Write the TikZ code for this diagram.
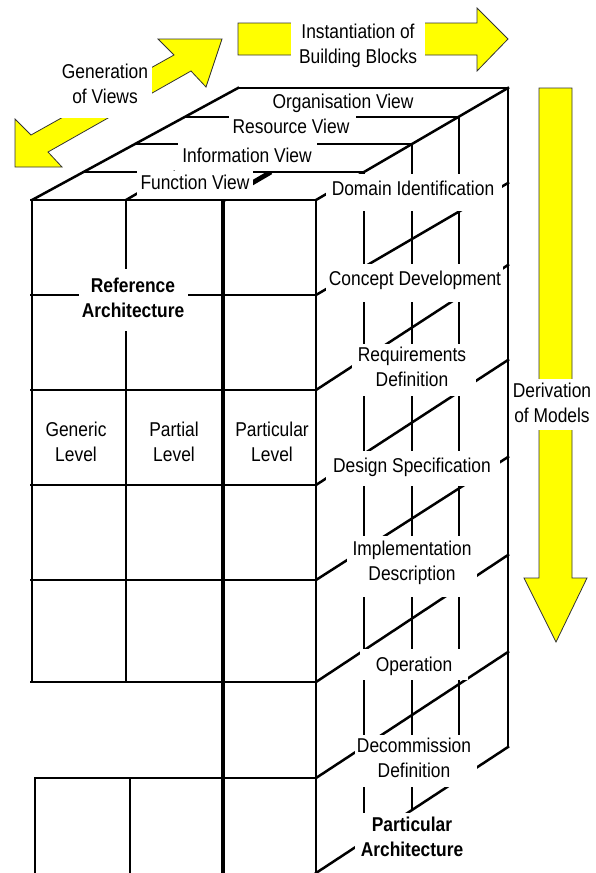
\documentclass[tikz,border=0pt]{standalone}
\usepackage{fontspec}
\setmainfont{Liberation Sans}[FakeStretch=0.87]
\definecolor{arrowyellow}{RGB}{255,255,0}
\begin{document}
\begin{tikzpicture}[x=1pt,y=-1pt,
  grid/.style={line width=2.5pt,line cap=rect},
  thickgrid/.style={line width=4.8pt},
  yarrow/.style={fill=arrowyellow,draw=black!80,line width=0.8pt,line join=miter},
  mask/.style={fill=white},
  lbl/.style={font=\fontsize{20}{25}\selectfont,align=center,inner sep=0pt},
  blbl/.style={font=\fontsize{20}{25}\selectfont\bfseries,align=center,inner sep=0pt}]
\useasboundingbox (0,0) rectangle (595,873);

% ---------- yellow arrows ----------
\draw[yarrow] (238,23) -- (477,23) -- (477,8) -- (508,39) -- (477,71) -- (477,55) -- (238,55) -- cycle;
\draw[yarrow] (539,88) -- (572,88) -- (572,578) -- (587,578) -- (556,642) -- (524,578) -- (539,578) -- cycle;
\draw[yarrow] (222,39) -- (206,87) -- (191,71) -- (48,152) -- (62,167) -- (15,167) -- (15,119) -- (31,135) -- (174,55) -- (158,39) -- cycle;

% ---------- front face ----------
\draw[grid] (32,200) -- (32,682);
\draw[grid] (126,200) -- (126,682);
\foreach \y in {200,295,390,485,580,682} \draw[grid] (31,\y) -- (316,\y);
\draw[grid] (35,778) -- (316,778);
\draw[grid] (35,778) -- (35,873);
\draw[grid] (130,778) -- (130,873);
\draw[grid] (316,200) -- (316,873);
\draw[thickgrid] (223,200) -- (223,873);

% ---------- top face ----------
\draw[grid] (32,200) -- (238,88);
\draw[grid] (316,200) -- (508,88);
\draw[grid] (83,172) -- (364,172);
\draw[grid] (135,144) -- (412,144);
\draw[grid] (186,117) -- (459,117);
\draw[grid] (238,88) -- (508,88);
\draw[grid] (126,200) -- (174,172);
\draw[thickgrid] (223,200) -- (271,172);

% ---------- right face ----------
\draw[grid] (508,88) -- (508,747);
\draw[grid] (364,172) -- (364,841);
\draw[grid] (412,144) -- (412,810);
\draw[grid] (459,117) -- (459,779);
\draw[grid] (316,295) -- (508,183);
\draw[grid] (316,390) -- (508,265);
\draw[grid] (316,485) -- (508,360);
\draw[grid] (316,580) -- (508,457);
\draw[grid] (316,682) -- (508,555);
\draw[grid] (316,778) -- (508,652);
\draw[grid] (316,873) -- (508,747);

% ---------- white label grounds ----------
\fill[mask] (291,16) rectangle (425,72);
\fill[mask] (512,379) rectangle (595,430);
\fill[mask] (55,58) rectangle (152,118);
\fill[mask] (270,90) rectangle (418,115.2);
\fill[mask] (229,115.8) rectangle (356,142.5);
\fill[mask] (178,143.2) rectangle (317,170.5);
\fill[mask] (137,171) rectangle (253,198.5);
\fill[mask] (326,173.8) rectangle (502,211);
\fill[mask] (326,264) rectangle (503,302);
\fill[mask] (352,344) rectangle (476,396);
\fill[mask] (326,451) rectangle (500,486);
\fill[mask] (347,536) rectangle (477,597);
\fill[mask] (360,649) rectangle (468,680);
\fill[mask] (355,735) rectangle (477,787);
\fill[mask] (355,813) rectangle (470,873);
\fill[mask] (79,269) rectangle (188,331);

% ---------- labels ----------
\node[lbl] (inst) at (358,45.5) {Instantiation of\\Building Blocks};
\node[lbl] (deriv) at (552,403) {Derivation\\of Models};
\node[lbl] (gen) at (105,84) {Generation\\of Views};
\node[lbl] (org) at (343,103) {Organisation View};
\node[lbl] (res) at (291,126) {Resource View};
\node[lbl] (info) at (247,155) {Information View};
\node[lbl] (func) at (195,182) {Function View};
\node[lbl] (dom) at (413,188) {Domain Identification};
\node[lbl] (conc) at (415,280) {Concept Development};
\node[lbl] (req) at (412,367) {Requirements\\Definition};
\node[lbl] (des) at (412,467) {Design Specification};
\node[lbl] (impl) at (412,563) {Implementation\\Description};
\node[lbl] (oper) at (414,666) {Operation};
\node[lbl] (decom) at (414,758) {Decommission\\Definition};
\node[blbl] (parch) at (412,837) {Particular\\Architecture};
\node[blbl] (rarch) at (133,298) {Reference\\Architecture};
\node[lbl] (gener) at (76,442) {Generic\\Level};
\node[lbl] (part) at (174,442) {Partial\\Level};
\node[lbl] (partic) at (272,442) {Particular\\Level};
\end{tikzpicture}
\end{document}
